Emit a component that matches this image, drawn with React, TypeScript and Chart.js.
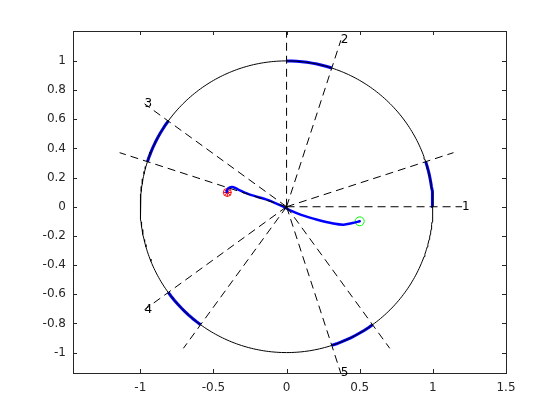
import { useEffect, useRef } from 'react';
import { Chart, registerables } from 'chart.js';
Chart.register(...registerables);

const xTicks = [-1, -0.5, 0, 0.5, 1, 1.5];
const yTicks = [-1, -0.8, -0.6, -0.4, -0.2, 0, 0.2, 0.4, 0.6, 0.8, 1];
const sectorStarts = [0, 72, 144, 216, 288];
const sectorWidth = 18;
const sectorLabels = ['1', '2', '3', '4', '5'];
const rayLength = 1.2;
const trajX = [-0.41, -0.40, -0.37, -0.33, -0.25, -0.13, -0.03, 0.01, 0.10, 0.21, 0.32, 0.39, 0.45, 0.50];
const trajY = [0.10, 0.125, 0.135, 0.118, 0.083, 0.047, 0.004, -0.018, -0.056, -0.089, -0.115, -0.123, -0.112, -0.10];
const endPoint = { x: -0.405, y: 0.098 };
const startPoint = { x: 0.5, y: -0.1 };

const rad = (d: number) => (d * Math.PI) / 180;
const arcPoints = (a0: number, a1: number, step: number) => {
  const pts = [] as { x: number; y: number }[];
  for (let a = a0; a <= a1 + 1e-9; a += step) pts.push({ x: Math.cos(rad(a)), y: Math.sin(rad(a)) });
  return pts;
};

const boxPlugin = {
  id: 'boxPlugin',
  afterDraw(chart: any) {
    const { ctx, chartArea, scales } = chart;
    const { left, right, top, bottom } = chartArea;
    const xs = scales.x;
    const ys = scales.y;
    ctx.save();
    ctx.strokeStyle = '#262626';
    ctx.lineWidth = 1;
    ctx.setLineDash([]);
    ctx.strokeRect(Math.round(left) + 0.5, Math.round(top) + 0.5, Math.round(right - left), Math.round(bottom - top));
    ctx.beginPath();
    for (const v of xTicks) {
      const p = Math.round(xs.getPixelForValue(v)) + 0.5;
      ctx.moveTo(p, bottom); ctx.lineTo(p, bottom - 4);
      ctx.moveTo(p, top); ctx.lineTo(p, top + 4);
    }
    for (const v of yTicks) {
      const p = Math.round(ys.getPixelForValue(v)) + 0.5;
      ctx.moveTo(left, p); ctx.lineTo(left + 4, p);
      ctx.moveTo(right, p); ctx.lineTo(right - 4, p);
    }
    ctx.stroke();
    ctx.fillStyle = '#000';
    ctx.font = '12px "DejaVu Sans"';
    ctx.textAlign = 'left';
    ctx.textBaseline = 'middle';
    sectorStarts.forEach((a, i) => {
      const px = xs.getPixelForValue(rayLength * Math.cos(rad(a)));
      const py = ys.getPixelForValue(rayLength * Math.sin(rad(a)));
      ctx.fillText(sectorLabels[i], px, py);
    });
    ctx.restore();
  },
};

export default function App() {
  const ref = useRef<HTMLCanvasElement>(null);
  useEffect(() => {
    const datasets: any[] = [];
    datasets.push({ data: arcPoints(0, 360, 1), showLine: true, borderColor: '#000', borderWidth: 1, pointRadius: 0 });
    sectorStarts.forEach((a) => {
      [a, a + sectorWidth].forEach((b) => {
        datasets.push({
          data: [{ x: 0, y: 0 }, { x: rayLength * Math.cos(rad(b)), y: rayLength * Math.sin(rad(b)) }],
          showLine: true, borderColor: '#000', borderWidth: 1, borderDash: [8, 5], pointRadius: 0,
        });
      });
    });
    sectorStarts.forEach((a) => {
      datasets.push({ data: arcPoints(a, a + sectorWidth, 2), showLine: true, borderColor: '#0000ff', borderWidth: 3, pointRadius: 0, borderJoinStyle: 'round', borderCapStyle: 'butt' });
    });
    datasets.push({
      data: trajX.map((x, i) => ({ x, y: trajY[i] })), showLine: true, borderColor: '#0000ff', borderWidth: 2.5,
      pointRadius: 0, tension: 0.3, borderCapStyle: 'round', borderJoinStyle: 'round',
    });
    datasets.push({ data: [startPoint], pointStyle: 'circle', pointRadius: 4.5, borderColor: '#00ff00', backgroundColor: 'rgba(0,0,0,0)', borderWidth: 1 });
    datasets.push({ data: [endPoint], pointStyle: 'circle', pointRadius: 4, borderColor: '#ff0000', backgroundColor: 'rgba(0,0,0,0)', borderWidth: 1 });
    datasets.push({ data: [endPoint], pointStyle: 'star', pointRadius: 4, borderColor: '#ff0000', backgroundColor: 'rgba(0,0,0,0)', borderWidth: 1 });

    const chart = new Chart(ref.current!, {
      type: 'scatter',
      data: { datasets },
      plugins: [boxPlugin],
      options: {
        animation: false,
        responsive: false,
        layout: { padding: { top: 31, right: 54, left: 0, bottom: 0 } },
        plugins: { legend: { display: false }, tooltip: { enabled: false } },
        scales: {
          x: {
            type: 'linear', min: -1.46, max: 1.5,
            grid: { display: false, drawTicks: false },
            border: { display: false },
            afterBuildTicks: (s: any) => { s.ticks = xTicks.map((v) => ({ value: v })); },
            afterFit: (s: any) => { s.height = 47; },
            ticks: { padding: 8, color: '#262626', font: { family: 'DejaVu Sans', size: 12 }, maxRotation: 0, callback: (v: any) => String(v) },
          },
          y: {
            type: 'linear', min: -1.14, max: 1.205,
            grid: { display: false, drawTicks: false },
            border: { display: false },
            afterBuildTicks: (s: any) => { s.ticks = yTicks.map((v) => ({ value: v })); },
            afterFit: (s: any) => { s.width = 73; },
            ticks: { padding: 7, color: '#262626', font: { family: 'DejaVu Sans', size: 12 }, callback: (v: any) => String(Math.round(Number(v) * 10) / 10) },
          },
        },
      },
    });
    return () => chart.destroy();
  }, []);
  return (
    <div style={{ position: 'fixed', left: 0, top: 0, width: 560, height: 420, background: '#fff' }}>
      <canvas ref={ref} width={560} height={420} />
    </div>
  );
}
